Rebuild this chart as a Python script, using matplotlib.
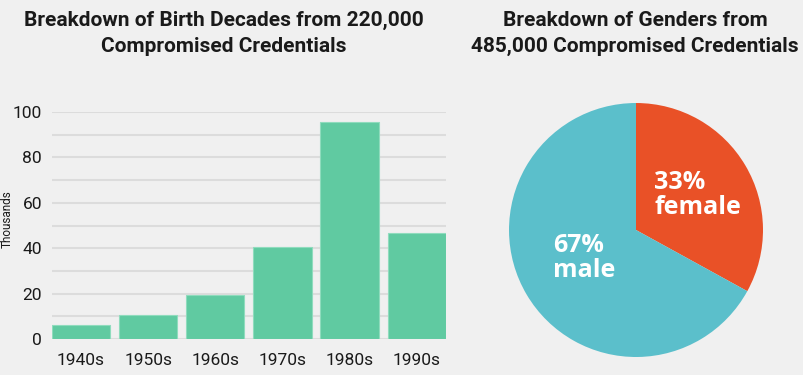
import matplotlib
matplotlib.use("Agg")
import matplotlib.pyplot as plt

decades = ["1940s", "1950s", "1960s", "1970s", "1980s", "1990s"]
counts_thousands = [6.0, 10.4, 19.2, 40.7, 95.7, 46.6]
yticks = [0, 20, 40, 60, 80, 100]

genders = ["female", "male"]
gender_pct = [33, 67]

BG = "#f0f0f0"
BAR = "#60caa1"
FEMALE = "#e95127"
MALE = "#5bbfcb"
TXT = "#1a1a1a"
FONT = "Roboto"

plt.rcParams["font.family"] = [FONT, "DejaVu Sans"]

fig = plt.figure(figsize=(8.04, 3.75), dpi=100, facecolor=BG)

# Bar chart
ax = fig.add_axes([0.0643, 0.096, 0.4904, 0.6053])
ax.set_facecolor(BG)
x = range(len(decades))
ax.bar(x, counts_thousands, width=0.87, color=BAR, edgecolor="#8fdcbd", linewidth=0.8, zorder=3)
ax.set_xlim(-0.435, len(decades) - 1 + 0.435)
ax.set_ylim(0, 100)
ax.set_yticks(yticks)
ax.set_yticks(range(10, 100, 20), minor=True)
ax.grid(axis="y", which="both", color="#dcdcdc", linewidth=1.5, zorder=0)
ax.set_xticks(list(x))
ax.set_xticklabels(decades)
for s in ax.spines.values():
    s.set_visible(False)
ax.tick_params(axis="both", which="both", length=0, labelsize=12.5, colors=TXT)
ax.tick_params(axis="y", pad=7)
ax.tick_params(axis="x", pad=10)
ax.set_ylabel("Thousands", fontsize=8.5, color=TXT, labelpad=4)
ax.yaxis.set_label_coords(-0.097, 0.53)

fig.text(0.278, 0.97, "Breakdown of Birth Decades from 220,000\nCompromised Credentials",
         ha="center", va="top", fontsize=15, fontweight="bold", color=TXT, linespacing=1.42)

# Pie chart
pax = fig.add_axes([0.6331, 0.048, 0.3159, 0.6773])
pax.set_facecolor(BG)
pax.pie(gender_pct, colors=[FEMALE, MALE], startangle=90, counterclock=False,
        radius=1.0, wedgeprops=dict(linewidth=0))
pax.set_xlim(-1, 1)
pax.set_ylim(-1, 1)
pax.set_aspect("equal")
pax.axis("off")

pax.text(0.142, 0.276, f"{gender_pct[0]}%\n{genders[0]}", ha="left", va="center",
         fontsize=18, fontweight="bold", color="white", family="Open Sans", linespacing=1.0)
pax.text(-0.654, -0.22, f"{gender_pct[1]}%\n{genders[1]}", ha="left", va="center",
         fontsize=18, fontweight="bold", color="white", family="Open Sans", linespacing=1.0)

fig.text(0.79, 0.97, "Breakdown of Genders from\n485,000 Compromised Credentials",
         ha="center", va="top", fontsize=15, fontweight="bold", color=TXT, linespacing=1.42)

fig.savefig("out.png", dpi=100, facecolor=BG)
